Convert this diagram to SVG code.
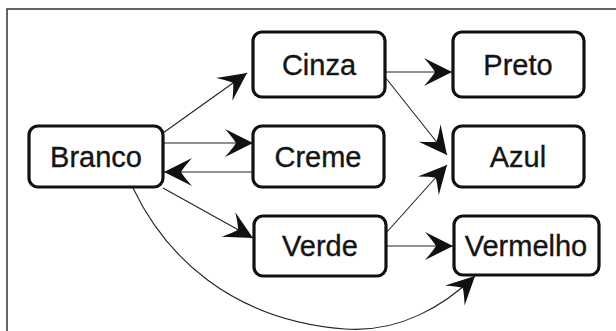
<svg xmlns="http://www.w3.org/2000/svg" width="616" height="331" viewBox="0 0 616 331">
  <defs>
    <style>
      .frame { fill: none; stroke: #333; stroke-width: 1.5; }
      .box { fill: #fff; stroke: #111; stroke-width: 3.2; }
      .label { font-family: "Liberation Sans", Arial, sans-serif; font-size: 29px; fill: #151515; stroke: #151515; stroke-width: 0.35; text-anchor: middle; }
      .edge { fill: none; stroke: #222; stroke-width: 1.1; }
    </style>
    <marker id="arrow" markerUnits="userSpaceOnUse" markerWidth="32" markerHeight="32" viewBox="-30 -16 32 32" refX="0" refY="0" orient="auto">
      <path d="M0,0 L-28,-14 Q-20,-5 -17,0 Q-20,5 -28,14 Z" fill="#111"/>
    </marker>
  </defs>

  <rect width="616" height="331" fill="#fff"/>
  <!-- outer frame (runs past right and bottom edges) -->
  <rect class="frame" x="7" y="9" width="640" height="360"/>

  <g id="connectors">
    <line class="edge" x1="163" y1="133" x2="247" y2="73" marker-end="url(#arrow)"/>
    <line class="edge" x1="163" y1="143" x2="253" y2="143" marker-end="url(#arrow)"/>
    <line class="edge" x1="253" y1="172" x2="164" y2="172" marker-end="url(#arrow)"/>
    <line class="edge" x1="163" y1="188" x2="253" y2="238" marker-end="url(#arrow)"/>
    <path class="edge" d="M133,188 C165,255 230,320 345,329 C400,333 445,305 475,276" marker-end="url(#arrow)"/>
    <line class="edge" x1="385" y1="72" x2="452" y2="72" marker-end="url(#arrow)"/>
    <line class="edge" x1="385" y1="77" x2="447" y2="155" marker-end="url(#arrow)"/>
    <line class="edge" x1="386" y1="233" x2="447" y2="165" marker-end="url(#arrow)"/>
    <line class="edge" x1="386" y1="246" x2="453" y2="246" marker-end="url(#arrow)"/>
  </g>

  <g id="branco">
    <rect class="box" x="29" y="126" width="134" height="61" rx="9"/>
    <text class="label" x="96" y="167">Branco</text>
  </g>
  <g id="cinza">
    <rect class="box" x="253" y="32" width="132" height="65" rx="9"/>
    <text class="label" x="319" y="75">Cinza</text>
  </g>
  <g id="creme">
    <rect class="box" x="253" y="126" width="131" height="61" rx="9"/>
    <text class="label" x="318" y="167">Creme</text>
  </g>
  <g id="verde">
    <rect class="box" x="254" y="216" width="132" height="60" rx="9"/>
    <text class="label" x="320" y="256">Verde</text>
  </g>
  <g id="preto">
    <rect class="box" x="453" y="32" width="131" height="65" rx="9"/>
    <text class="label" x="518" y="75">Preto</text>
  </g>
  <g id="azul">
    <rect class="box" x="453" y="126" width="131" height="61" rx="9"/>
    <text class="label" x="518" y="167">Azul</text>
  </g>
  <g id="vermelho">
    <rect class="box" x="454" y="216" width="145" height="59" rx="9"/>
    <text class="label" x="526" y="256">Vermelho</text>
  </g>
</svg>
